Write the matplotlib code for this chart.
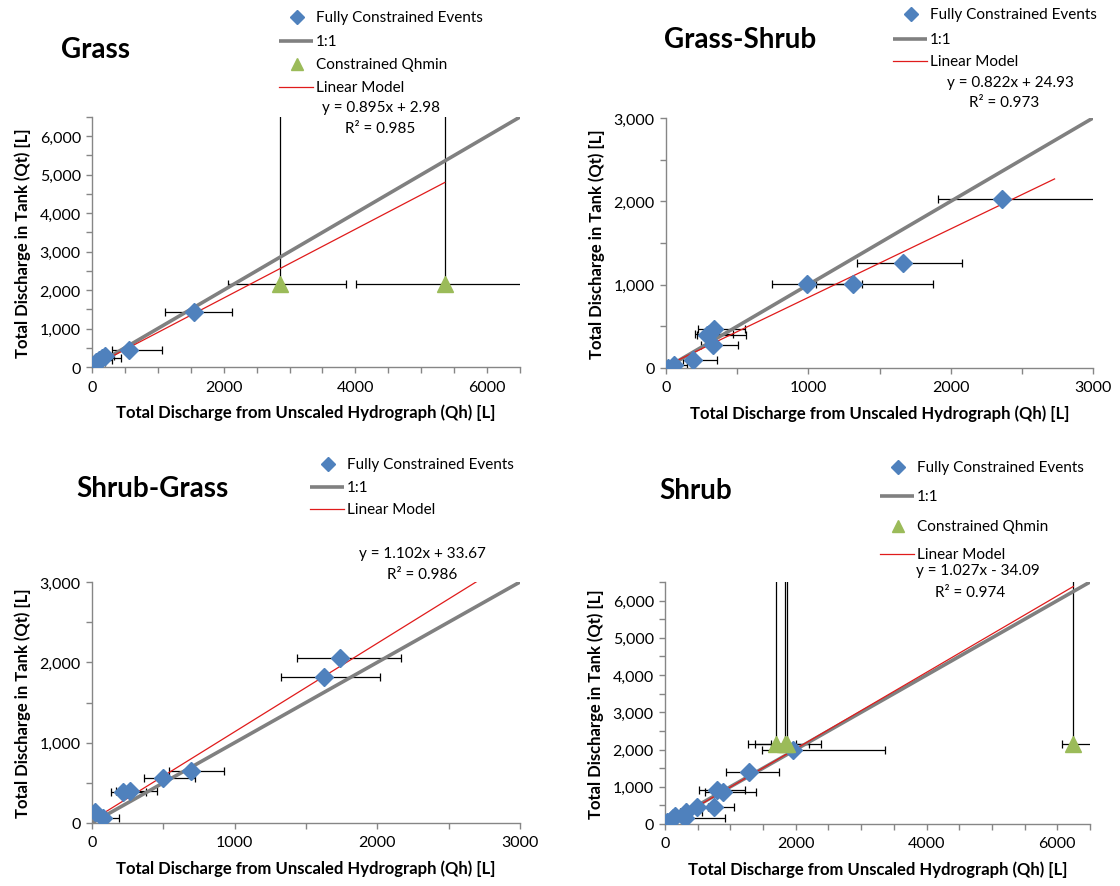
import matplotlib
matplotlib.use('Agg')
import matplotlib.pyplot as plt
from matplotlib.ticker import MultipleLocator, FuncFormatter
from matplotlib.lines import Line2D
import numpy as np

plt.rcParams['font.family'] = ['Lato', 'DejaVu Sans']

# ---------------- data ----------------
# Grass
grass_x = [5, 30, 60, 100, 150, 200, 560, 1545]
grass_y = [0, 60, 120, 180, 230, 290, 430, 1440]
grass_xlo = [0, 15, 40, 70, 100, 130, 300, 1112]
grass_xhi = [20, 80, 200, 300, 440, 330, 1063, 2131]
grass_qx = [2850, 5357]
grass_qy = [2170, 2170]
grass_qxlo = [2060, 4016]
grass_qxhi = [3853, 7000]
grass_qyhi = [9000, 9000]
grass_fit = (0.895, 2.98, 0.985)
grass_fit_range = [0, 5357]

# Grass-Shrub
gs_x = [13, 55, 193, 327, 300, 290, 337, 992, 1312, 1663, 2362]
gs_y = [0, 32, 92, 272, 410, 395, 472, 1004, 1004, 1260, 2032]
gs_xlo = [0, 30, 118, 249, 206, 215, 226, 746, 1055, 1342, 1910]
gs_xhi = [40, 150, 357, 508, 470, 560, 558, 1379, 1877, 2078, 3200]
gs_fit = (0.822, 24.93, 0.973)
gs_fit_range = [13, 2730]

# Shrub-Grass
sg_x = [18, 75, 218, 263, 501, 694, 1627, 1739]
sg_y = [141, 58, 382, 402, 556, 643, 1813, 2050]
sg_xlo = [5, 0, 133, 168, 363, 539, 1328, 1434]
sg_xhi = [40, 188, 381, 456, 719, 925, 2018, 2165]
sg_fit = (1.102, 33.67, 0.986)
sg_fit_range = [13, 2720]

# Shrub
sh_x = [15, 30, 120, 160, 300, 320, 490, 745, 800, 880, 1290, 1960]
sh_y = [0, 50, 170, 225, 150, 330, 470, 460, 910, 850, 1400, 1990]
sh_xlo = [5, 10, 60, 90, 290, 230, 316, 560, 517, 609, 930, 1480]
sh_xhi = [40, 90, 250, 300, 920, 560, 660, 1050, 1218, 1387, 1740, 3360]
sh_qx = [1692, 1830, 1866, 6245]
sh_qy = [2160, 2160, 2160, 2160]
sh_qxlo = [1267, 1376, 1621, 6070]
sh_qxhi = [2002, 2382, 2200, 6800]
sh_qyhi = [9000, 9000, 9000, 9000]
sh_fit = (1.027, -34.09, 0.974)
sh_fit_range = [0, 6245]

panel_titles = ['Grass', 'Grass-Shrub', 'Shrub-Grass', 'Shrub']
legend_labels = ['Fully Constrained Events', '1:1', 'Constrained Qhmin', 'Linear Model']
xlabel = 'Total Discharge from Unscaled Hydrograph (Qh) [L]'
ylabel = 'Total Discharge in Tank (Qt) [L]'

# ---------------- style ----------------
BLUE = '#4F81BD'
GREEN = '#9BBB59'
GRAY = '#808080'
RED = '#E01B1B'
AXC = '#868686'
W, H = 1120, 887

fig = plt.figure(figsize=(W / 100, H / 100), dpi=100)


def px_rect(left, top, right, bottom):
    return [left / W, 1 - bottom / H, (right - left) / W, (bottom - top) / H]


def fx(x):
    return x / W


def fy(y):
    return 1 - y / H


def style(ax, lim, xmajor):
    ax.set_xlim(0, lim)
    ax.set_ylim(0, lim)
    for s in ['top', 'right']:
        ax.spines[s].set_visible(False)
    for s in ['left', 'bottom']:
        ax.spines[s].set_color(AXC)
        ax.spines[s].set_linewidth(1.0)
    ax.xaxis.set_major_locator(MultipleLocator(xmajor))
    ax.xaxis.set_minor_locator(MultipleLocator(500))
    ax.yaxis.set_major_locator(MultipleLocator(1000))
    ax.yaxis.set_minor_locator(MultipleLocator(500))
    ax.yaxis.set_major_formatter(FuncFormatter(lambda v, p: f'{v:,.0f}'))
    ax.xaxis.set_major_formatter(FuncFormatter(lambda v, p: f'{v:.0f}'))
    ax.tick_params(which='both', direction='out', length=4, width=1, color=AXC,
                   labelsize=11.5, labelcolor='black')
    ax.tick_params(axis='x', pad=5)
    ax.tick_params(axis='y', pad=4)
    ax.set_xlabel(xlabel, fontsize=12, fontweight='bold', labelpad=7)
    ax.set_ylabel(ylabel, fontsize=12, fontweight='bold', labelpad=6)


def draw(ax, x, y, xlo, xhi, lim, fit, fit_range, qx=None, qy=None, qxlo=None, qxhi=None, qyhi=None):
    x = np.array(x, float); y = np.array(y, float)
    ax.errorbar(x, y, xerr=[x - np.array(xlo), np.array(xhi) - x], fmt='none',
                ecolor='black', elinewidth=0.9, capsize=3.2, capthick=0.9, zorder=2)
    if qx is not None:
        qx_a = np.array(qx, float); qy_a = np.array(qy, float)
        ax.errorbar(qx_a, qy_a, xerr=[qx_a - np.array(qxlo), np.array(qxhi) - qx_a],
                    yerr=[np.zeros_like(qy_a), np.array(qyhi) - qy_a], fmt='none',
                    ecolor='black', elinewidth=0.9, capsize=3.2, capthick=0.9, zorder=2)
    ax.plot([0, lim], [0, lim], color=GRAY, lw=2.6, zorder=3, solid_capstyle='butt')
    fr = np.array(fit_range, float)
    ax.plot(fr, fit[0] * fr + fit[1], color=RED, lw=0.9, zorder=4)
    ax.plot(x, y, linestyle='none', marker='D', markersize=9.5, color=BLUE, zorder=5)
    if qx is not None:
        ax.plot(qx, qy, linestyle='none', marker='^', markersize=12, color=GREEN, zorder=5)


def legend(text_x, ys, with_q):
    """Manual Excel-like legend: marker/line handle just left of the text."""
    kinds = ['diamond', 'gray']
    labels = [legend_labels[0], legend_labels[1]]
    if with_q:
        kinds.append('tri'); labels.append(legend_labels[2])
    kinds.append('red'); labels.append(legend_labels[3])
    x0, x1, xm = text_x - 37, text_x - 3, text_x - 19
    for kind, lab, y in zip(kinds, labels, ys):
        if kind == 'diamond':
            fig.add_artist(Line2D([fx(xm)], [fy(y)], transform=fig.transFigure, linestyle='none',
                                  marker='D', markersize=7, color=BLUE))
        elif kind == 'tri':
            fig.add_artist(Line2D([fx(xm)], [fy(y)], transform=fig.transFigure, linestyle='none',
                                  marker='^', markersize=9, color=GREEN))
        elif kind == 'gray':
            fig.add_artist(Line2D([fx(x0), fx(x1)], [fy(y), fy(y)], transform=fig.transFigure,
                                  color=GRAY, lw=2.6, solid_capstyle='butt'))
        else:
            fig.add_artist(Line2D([fx(x0), fx(x1)], [fy(y), fy(y)], transform=fig.transFigure,
                                  color=RED, lw=0.9))
        fig.text(fx(text_x), fy(y), lab, ha='left', va='center', fontsize=11)


def eq_text(fit, cx1, y1, cx2, y2):
    m, b, r2 = fit
    sign = '+' if b >= 0 else '-'
    fig.text(fx(cx1), fy(y1), f'y = {m:.3f}x {sign} {abs(b):.2f}', ha='center', va='center', fontsize=11)
    fig.text(fx(cx2), fy(y2), f'R² = {r2:.3f}', ha='center', va='center', fontsize=11)


# Panel 1: Grass
ax1 = fig.add_axes(px_rect(92, 118, 520, 368))
style(ax1, 6500, 2000)
draw(ax1, grass_x, grass_y, grass_xlo, grass_xhi, 6500, grass_fit, grass_fit_range,
     grass_qx, grass_qy, grass_qxlo, grass_qxhi, grass_qyhi)
legend(316, [18, 42, 65, 88], True)
eq_text(grass_fit, 381, 108, 380, 129)
fig.text(fx(96), fy(50), panel_titles[0], ha='center', va='center', fontsize=20, fontweight='bold')

# Panel 2: Grass-Shrub
ax2 = fig.add_axes(px_rect(666, 119, 1093, 369))
style(ax2, 3000, 1000)
draw(ax2, gs_x, gs_y, gs_xlo, gs_xhi, 3000, gs_fit, gs_fit_range)
legend(930, [15, 40, 62], False)
eq_text(gs_fit, 1010, 83, 1004, 103)
fig.text(fx(740), fy(40), panel_titles[1], ha='center', va='center', fontsize=20, fontweight='bold')

# Panel 3: Shrub-Grass
ax3 = fig.add_axes(px_rect(92, 583, 520, 824))
style(ax3, 3000, 1000)
draw(ax3, sg_x, sg_y, sg_xlo, sg_xhi, 3000, sg_fit, sg_fit_range)
legend(347, [465, 488, 510], False)
eq_text(sg_fit, 422, 554, 422, 575)
fig.text(fx(152), fy(489), panel_titles[2], ha='center', va='center', fontsize=20, fontweight='bold')

# Panel 4: Shrub
ax4 = fig.add_axes(px_rect(665, 583, 1090, 825))
style(ax4, 6500, 2000)
draw(ax4, sh_x, sh_y, sh_xlo, sh_xhi, 6500, sh_fit, sh_fit_range,
     sh_qx, sh_qy, sh_qxlo, sh_qxhi, sh_qyhi)
legend(917, [468, 497, 527, 555], True)
eq_text(sh_fit, 978, 571, 970, 593)
fig.text(fx(696), fy(491), panel_titles[3], ha='center', va='center', fontsize=20, fontweight='bold')

fig.savefig('out.png', dpi=100)
